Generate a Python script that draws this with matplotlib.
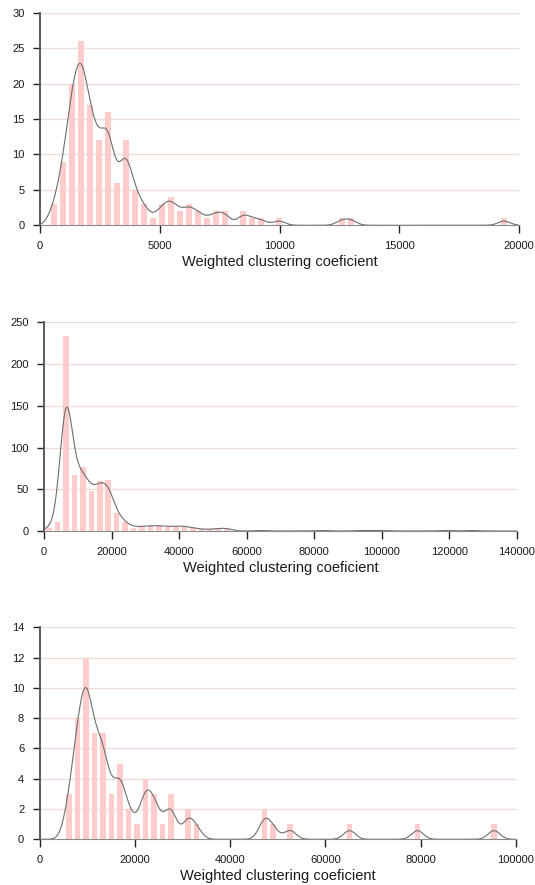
import numpy as np
import matplotlib
matplotlib.use("Agg")
import matplotlib.pyplot as plt

plt.rcParams['font.family'] = ['Liberation Sans', 'DejaVu Sans']

# ---------------- data ----------------
xlabel_text = "Weighted clustering coeficient"

# panel 1
p1_first_center = 578
p1_bin_width = 376
p1_counts = [3, 9, 20, 26, 17, 12, 16, 6, 12, 5, 3, 1, 3, 4, 2, 3, 2, 1, 2, 2,
             0, 2, 1, 1, 0, 1, 0, 0, 0, 0, 0, 0, 1, 1, 0, 0, 0, 0, 0, 0,
             0, 0, 0, 0, 0, 0, 0, 0, 0, 0, 1]
p1_bandwidth = 255
p1_xticks = [0, 5000, 10000, 15000, 20000]
p1_yticks = [0, 5, 10, 15, 20, 25, 30]

# panel 2
p2_first_center = 1450
p2_bin_width = 2505
p2_counts = [4, 11, 233, 67, 77, 48, 60, 61, 21, 11, 4, 6, 6, 7, 5, 6, 6, 4, 2, 2,
             3, 4, 0, 0, 0, 1, 0, 0, 0, 0, 0, 0, 1, 0, 0, 0, 0, 1, 0, 1,
             0, 0, 0, 0, 0, 0, 0, 1, 0, 0, 1]
p2_bandwidth = 1800
p2_xticks = [0, 20000, 40000, 60000, 80000, 100000, 120000, 140000]
p2_yticks = [0, 50, 100, 150, 200, 250]

# panel 3
p3_first_center = 6190
p3_bin_width = 1784
p3_counts = [3, 8, 12, 7, 7, 3, 5, 2, 1, 4, 3, 1, 3, 0, 2, 1, 0, 0, 0, 0,
             0, 0, 0, 2, 1, 0, 1, 0, 0, 0, 0, 0, 0, 1, 0, 0, 0, 0, 0, 0,
             0, 1, 0, 0, 0, 0, 0, 0, 0, 0, 1]
p3_bandwidth = 1250
p3_xticks = [0, 20000, 40000, 60000, 80000, 100000]
p3_yticks = [0, 2, 4, 6, 8, 10, 12, 14]

# ---------------- style ----------------
BAR_COLOR = '#ffcccc'
LINE_COLOR = '#6e6e6e'
GRID_COLOR = '#ecdcd3'
BAR_FRAC = 0.66

W, H = 535, 885
fig = plt.figure(figsize=(W / 100, H / 100), dpi=100)

panels = [
    dict(first=p1_first_center, bw=p1_bin_width, counts=p1_counts, h=p1_bandwidth,
         xticks=p1_xticks, yticks=p1_yticks, rect=(40, 12.7, 519, 225.3)),
    dict(first=p2_first_center, bw=p2_bin_width, counts=p2_counts, h=p2_bandwidth,
         xticks=p2_xticks, yticks=p2_yticks, rect=(44.1, 322.3, 517, 531)),
    dict(first=p3_first_center, bw=p3_bin_width, counts=p3_counts, h=p3_bandwidth,
         xticks=p3_xticks, yticks=p3_yticks, rect=(39.5, 627.3, 516, 839.3)),
]

for p in panels:
    x0, y0, x1, y1 = p['rect']
    ax = fig.add_axes([x0 / W, 1 - y1 / H, (x1 - x0) / W, (y1 - y0) / H])
    counts = np.array(p['counts'], dtype=float)
    centers = p['first'] + p['bw'] * np.arange(len(counts))
    xmax = p['xticks'][-1]
    ymax = p['yticks'][-1]

    # grid lines
    for yt in p['yticks'][1:]:
        ax.axhline(yt, color=GRID_COLOR, lw=1.0, zorder=0)

    mask = counts > 0
    ax.bar(centers[mask], counts[mask], width=p['bw'] * BAR_FRAC,
           color=BAR_COLOR, zorder=2, linewidth=0)

    # smoothed density (gaussian kernel over the binned counts), scaled to counts
    xs = np.linspace(0, xmax, 1500)
    hbw = p['h']
    dens = np.zeros_like(xs)
    for c, n in zip(centers, counts):
        if n > 0:
            dens += n * p['bw'] * np.exp(-0.5 * ((xs - c) / hbw) ** 2) / (np.sqrt(2 * np.pi) * hbw)
    ax.plot(xs, dens, color=LINE_COLOR, lw=0.8, zorder=3)

    ax.set_xlim(0, xmax)
    ax.set_ylim(0, ymax)
    ax.set_xticks(p['xticks'])
    ax.set_xticklabels([str(t) for t in p['xticks']])
    ax.set_yticks(p['yticks'])
    ax.set_yticklabels([str(t) for t in p['yticks']])

    for s in ['top', 'right']:
        ax.spines[s].set_visible(False)
    ax.spines['left'].set_color('#5a5a5a')
    ax.spines['left'].set_linewidth(1.4)
    ax.spines['bottom'].set_color('#8a8a8a')
    ax.spines['bottom'].set_linewidth(0.8)
    ax.spines['left'].set_zorder(4)

    ax.tick_params(axis='y', direction='out', length=5, width=1.0, color='#222222',
                   labelsize=8, pad=6, labelcolor='#1a1a1a')
    ax.tick_params(axis='x', direction='out', length=5.5, width=1.0, color='#222222',
                   labelsize=8, pad=6, labelcolor='#1a1a1a')
    ax.set_xlabel(xlabel_text, fontsize=10.5, color='#1a1a1a', labelpad=3)
    ax.patch.set_alpha(0)

fig.savefig('out.png', dpi=100)
